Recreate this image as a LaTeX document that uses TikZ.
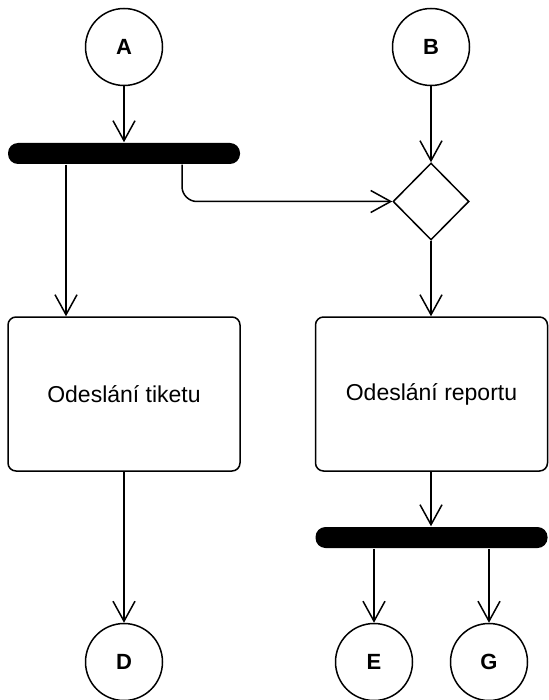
\documentclass[tikz,border=0pt]{standalone}
\usepackage{fontspec}
\setmainfont{Liberation Sans}
\usetikzlibrary{arrows.meta,shapes.geometric}
\begin{document}
\begin{tikzpicture}[x=1pt,y=-1pt,line width=1.5pt,
  term/.style={circle,draw,minimum size=77pt,inner sep=0pt,font=\fontsize{22}{24}\selectfont\bfseries},
  bar/.style={rectangle,fill=black,rounded corners=10pt,minimum height=21pt,inner sep=0pt},
  act/.style={rectangle,draw,rounded corners=8pt,minimum width=232pt,minimum height=154pt,inner sep=0pt,font=\fontsize{23}{26}\selectfont},
  dec/.style={diamond,draw,minimum width=76pt,minimum height=77pt,inner sep=0pt,aspect=1},
  flow/.style={-{Straight Barb[length=20pt,width=22pt,line width=1.5pt]}}]
\useasboundingbox (0,0) rectangle (548,700);
\node[term] (A) at (124,47) {A};
\node[term] (B) at (431,47) {B};
\node[bar,minimum width=232pt] (bar1) at (124,153.5) {};
\node[dec] (dia) at (431,201.5) {};
\node[act] (lbox) at (124,394) {Odeslání tiketu};
\node[act] (rbox) at (431.5,394) {Odeslání reportu};
\node[bar,minimum width=232pt] (bar2) at (431.5,537.5) {};
\node[term] (D) at (124,662) {D};
\node[term] (E) at (374,662) {E};
\node[term] (G) at (489,662) {G};
\draw[flow] (A.south) -- (A.south |- bar1.north);
\draw[flow] (B.south) -- (dia.north);
\draw[flow] ([xshift=-58pt]bar1.south) -- ([xshift=-58pt]bar1.south |- lbox.north);
\draw[flow,rounded corners=15pt] ([xshift=58pt]bar1.south) |- (dia.west);
\draw[flow] (dia.south) -- (dia.south |- rbox.north);
\draw[flow] (lbox.south) -- (D.north);
\draw[flow] (rbox.south -| dia.south) -- (dia.south |- bar2.north);
\draw[flow] (E.north |- bar2.south) -- (E.north);
\draw[flow] (G.north |- bar2.south) -- (G.north);
\end{tikzpicture}
\end{document}
